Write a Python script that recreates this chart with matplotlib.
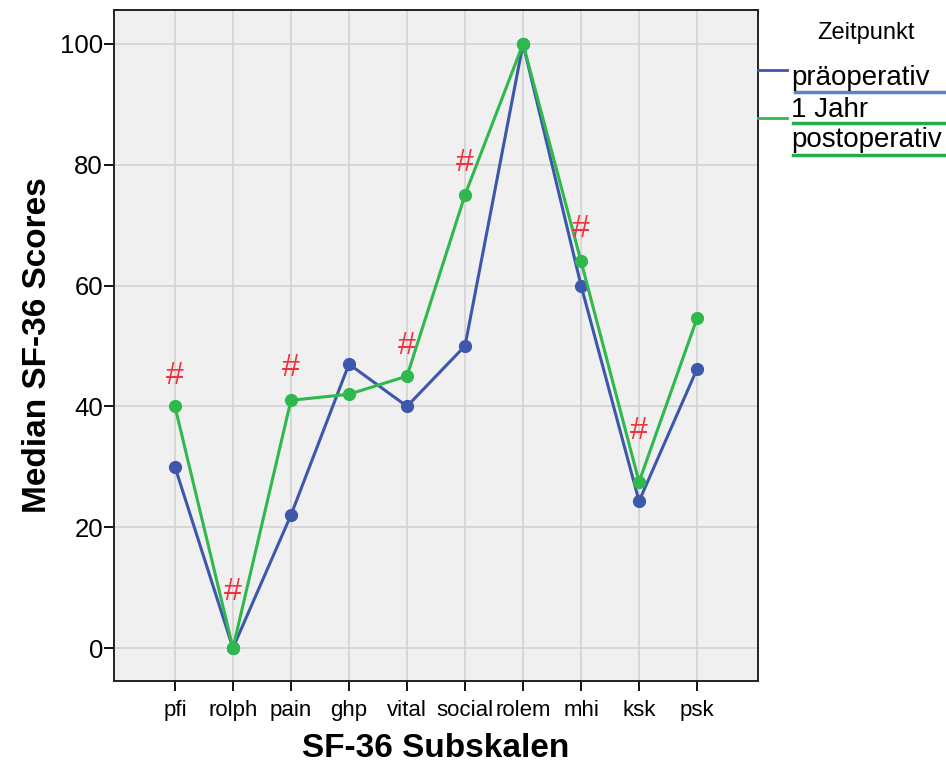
import matplotlib.pyplot as plt
from matplotlib.lines import Line2D

plt.rcParams['font.family'] = ['Liberation Sans', 'DejaVu Sans']

subscales = ['pfi', 'rolph', 'pain', 'ghp', 'vital', 'social', 'rolem', 'mhi', 'ksk', 'psk']
pre_op = [30, 0, 22, 47, 40, 50, 100, 60, 24.3, 46.2]
post_1yr = [40, 0, 41, 42, 45, 75, 100, 64, 27.5, 54.6]

# significant differences marked with '#'
sig_scales = ['pfi', 'rolph', 'pain', 'vital', 'social', 'mhi', 'ksk']
sig_y = [45.0, 9.2, 46.3, 50.0, 80.3, 69.3, 35.9]

blue = '#3d57ab'
green = '#2fb84b'

fig = plt.figure(figsize=(9.46, 7.67), dpi=100)
ax = fig.add_axes([114 / 946, 1 - 681 / 767, (758 - 114) / 946, (681 - 10) / 767])
ax.set_facecolor('#f0f0f0')

x = list(range(len(subscales)))
ax.plot(x, pre_op, '-o', color=blue, lw=2.2, ms=8.5, zorder=3)
ax.plot(x, post_1yr, '-o', color=green, lw=2.2, ms=8.5, zorder=4)

for name, y in zip(sig_scales, sig_y):
    ax.text(subscales.index(name), y, '#', color='#f0323f', fontsize=23,
            ha='center', va='center', zorder=5)

ax.set_xlim(-1.05, 10.05)
ax.set_ylim(-5.46, 105.6)
ax.set_xticks(x)
ax.set_xticklabels(subscales, fontsize=16)
ax.set_yticks(range(0, 101, 20))
ax.tick_params(axis='y', labelsize=18.5, length=7, width=1.3, direction='out', pad=1)
ax.tick_params(axis='x', length=7, width=1.3, direction='out', pad=7)
ax.grid(True, color='#d3d3d3', lw=1.2)
ax.set_axisbelow(True)
for s in ax.spines.values():
    s.set_linewidth(1.4)
    s.set_color('#222222')

ax.set_xlabel('SF-36 Subskalen', fontsize=24, fontweight='bold', labelpad=8)
ax.set_ylabel('Median SF-36 Scores', fontsize=24, fontweight='bold', labelpad=5)

# legend drawn by hand to the right of the plot
def fx(px):
    return px / 946

def fy(py):
    return 1 - py / 767

fig.text(fx(866), fy(33), 'Zeitpunkt', fontsize=17, ha='center', va='center')
fig.add_artist(Line2D([fx(758), fx(787)], [fy(70), fy(70)], color=blue, lw=2))
fig.text(fx(791), fy(78), 'präoperativ', fontsize=20, ha='left', va='center')
fig.add_artist(Line2D([fx(795), fx(946)], [fy(92), fy(92)], color='#5a82c8', lw=2.5))
fig.add_artist(Line2D([fx(758), fx(787)], [fy(118), fy(118)], color=green, lw=2))
fig.text(fx(791), fy(110), '1 Jahr', fontsize=20, ha='left', va='center')
fig.add_artist(Line2D([fx(793), fx(946)], [fy(123), fy(123)], color='#1fb04a', lw=2.5))
fig.text(fx(791), fy(140), 'postoperativ', fontsize=20, ha='left', va='center')
fig.add_artist(Line2D([fx(793), fx(946)], [fy(155), fy(155)], color='#1fb04a', lw=2.5))

fig.savefig('out.png', dpi=100)
